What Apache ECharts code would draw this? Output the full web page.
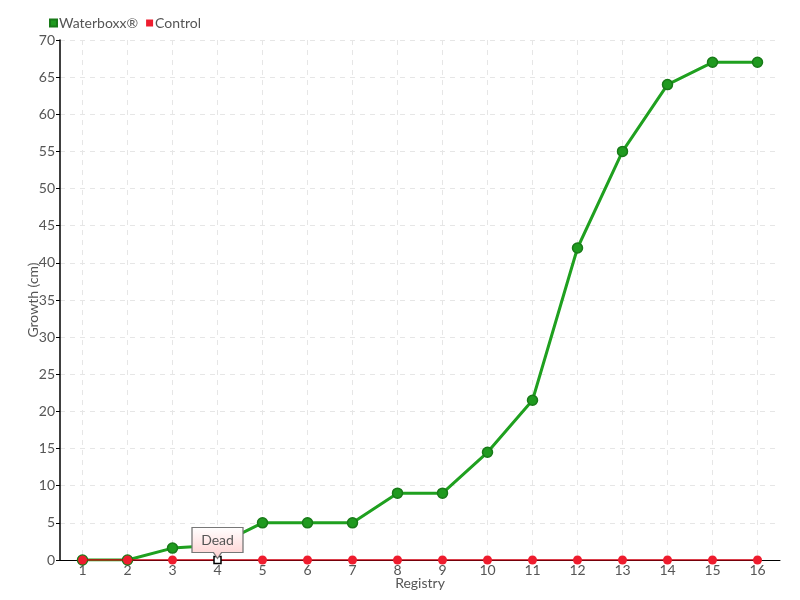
<!DOCTYPE html>
<html>
<head>
<meta charset="utf-8">
<script src="https://cdn.jsdelivr.net/npm/echarts@6/dist/echarts.min.js"></script>
<style>html,body{margin:0;padding:0;background:#fff}#c{width:800px;height:600px}</style>
</head>
<body>
<div id="c"></div>
<script>
const categories = ['1','2','3','4','5','6','7','8','9','10','11','12','13','14','15','16'];
const waterboxx = [0, 0, 1.6, 2, 5, 5, 5, 9, 9, 14.5, 21.5, 42, 55, 64, 67, 67];
const control = [0, 0, 0, 0, 0, 0, 0, 0, 0, 0, 0, 0, 0, 0, 0, 0];
const deadIndex = 3;
const deadLabel = 'Dead';
const yTicks = { min: 0, max: 70, interval: 5 };

const FONT = "Lato, 'DejaVu Sans', sans-serif";
const chart = echarts.init(document.getElementById('c'), null, { renderer: 'canvas' });

const controlData = control.map((v, i) => i === deadIndex ? {
  value: v,
  symbol: 'rect', symbolSize: 7,
  itemStyle: { color: '#fff', borderColor: '#000', borderWidth: 1.5 }
} : v);

chart.setOption({
  animation: false,
  textStyle: { fontFamily: FONT },
  legend: {
    left: 44, top: 11, itemWidth: 7, itemHeight: 7, itemGap: 8,
    icon: 'rect',
    textStyle: { fontFamily: FONT, fontSize: 14, color: '#555', padding: [0, 0, 0, -3] },
    data: ['Waterboxx®', 'Control']
  },
  grid: { left: 60, right: 20, top: 40, bottom: 40, containLabel: false },
  xAxis: {
    type: 'category', data: categories, boundaryGap: true,
    name: 'Registry', nameLocation: 'middle', nameGap: 16, nameMoveOverlap: false,
    nameTextStyle: { fontFamily: FONT, fontSize: 14, color: '#555' },
    axisLine: { show: true, lineStyle: { color: '#000', width: 1 } },
    axisTick: { show: false },
    axisLabel: { fontFamily: FONT, fontSize: 14, color: '#555', margin: 3 },
    splitLine: { show: true, alignWithLabel: true, lineStyle: { color: '#e6e6e6', type: [5, 5], width: 1 } }
  },
  yAxis: {
    type: 'value', min: yTicks.min, max: yTicks.max, interval: yTicks.interval,
    name: 'Growth (cm)', nameLocation: 'middle', nameGap: 20, nameMoveOverlap: false,
    nameTextStyle: { fontFamily: FONT, fontSize: 14, color: '#555' },
    axisLine: { show: true, lineStyle: { color: '#000', width: 1.5 } },
    axisTick: { show: true, length: 4, lineStyle: { color: '#000' } },
    axisLabel: { fontFamily: FONT, fontSize: 14, color: '#555', margin: 5 },
    splitLine: { show: true, lineStyle: { color: '#e6e6e6', type: [5, 5], width: 1 } }
  },
  series: [
    {
      name: 'Waterboxx®', type: 'line', data: waterboxx, z: 2,
      symbol: 'circle', symbolSize: 10, showAllSymbol: true,
      lineStyle: { color: '#1fa01f', width: 3 },
      itemStyle: { color: '#1f9a1f', borderColor: '#187a18', borderWidth: 1.5 }
    },
    {
      name: 'Control', type: 'line', data: controlData, z: 3,
      symbol: 'circle', symbolSize: 9,
      lineStyle: { color: '#d00010', width: 1.5 },
      itemStyle: { color: '#ee1c2e', borderColor: '#ee1c2e', borderWidth: 0 },
      markPoint: {
        z: 10,
        symbol: 'path://M0,0 H50 V25 H29 L25,31 L21,25 H0 Z',
        symbolSize: [51, 31],
        symbolKeepAspect: false,
        symbolOffset: [0, -17],
        itemStyle: {
          color: { type: 'linear', x: 0, y: 0, x2: 0, y2: 1, colorStops: [
            { offset: 0, color: '#ffffff' }, { offset: 1, color: '#ffcfcf' } ] },
          borderColor: '#777', borderWidth: 1
        },
        label: { show: true, formatter: deadLabel, color: '#555', fontFamily: FONT, fontSize: 14, offset: [0, -3] },
        data: [{ coord: [deadIndex, control[deadIndex]] }]
      }
    }
  ]
});
</script>
</body>
</html>
